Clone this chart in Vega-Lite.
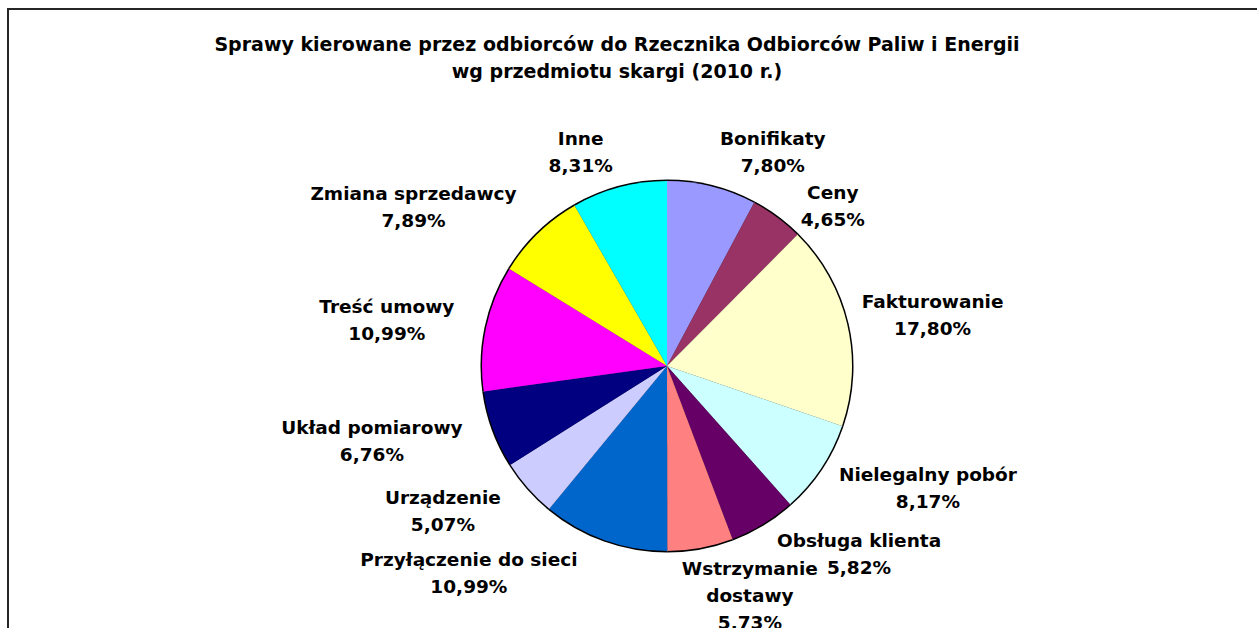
{
  "$schema": "https://vega.github.io/schema/vega-lite/v6.json",
  "autosize": {"type": "none"},
  "width": 1318,
  "height": 714,
  "padding": {"left": 8, "top": 9, "right": -69, "bottom": -95},
  "background": "white",
  "view": {"stroke": "#262626", "strokeWidth": 2, "fill": "white"},
  "config": {"view": {"stroke": "#262626", "strokeWidth": 2}},
  "title": {
    "text": ["Sprawy kierowane przez odbiorców do Rzecznika Odbiorców Paliw i Energii", "wg przedmiotu skargi (2010 r.)"],
    "font": "DejaVu Sans",
    "fontSize": 19,
    "fontWeight": "bold",
    "color": "black",
    "lineHeight": 27,
    "anchor": "middle",
    "frame": "group",
    "baseline": "top",
    "offset": -73,
    "dx": -50
  },
  "data": {
    "values": [
      {"i": 1, "name": "Bonifikaty", "value": 7.80},
      {"i": 2, "name": "Ceny", "value": 4.65},
      {"i": 3, "name": "Fakturowanie", "value": 17.80},
      {"i": 4, "name": "Nielegalny pobór", "value": 8.17},
      {"i": 5, "name": "Obsługa klienta", "value": 5.82},
      {"i": 6, "name": "Wstrzymanie\ndostawy", "value": 5.73},
      {"i": 7, "name": "Przyłączenie do sieci", "value": 10.99},
      {"i": 8, "name": "Urządzenie", "value": 5.07},
      {"i": 9, "name": "Układ pomiarowy", "value": 6.76},
      {"i": 10, "name": "Treść umowy", "value": 10.99},
      {"i": 11, "name": "Zmiana sprzedawcy", "value": 7.89},
      {"i": 12, "name": "Inne", "value": 8.31}
    ]
  },
  "encoding": {
    "theta": {"field": "value", "type": "quantitative", "stack": true},
    "order": {"field": "i", "type": "quantitative"}
  },
  "layer": [
    {
      "mark": {"type": "arc", "outerRadius": 186.5, "color": "black"}
    },
    {
      "mark": {"type": "arc", "outerRadius": 185},
      "encoding": {
        "color": {
          "field": "name",
          "type": "nominal",
          "legend": null,
          "scale": {
            "domain": ["Bonifikaty", "Ceny", "Fakturowanie", "Nielegalny pobór", "Obsługa klienta", "Wstrzymanie\ndostawy", "Przyłączenie do sieci", "Urządzenie", "Układ pomiarowy", "Treść umowy", "Zmiana sprzedawcy", "Inne"],
            "range": ["#9999FF", "#993366", "#FFFFCC", "#CCFFFF", "#660066", "#FF8080", "#0066CC", "#CCCCFF", "#000080", "#FF00FF", "#FFFF00", "#00FFFF"]
          }
        }
      }
    },
    {
      "transform": [
        {"calculate": "replace(format(datum.value, '.2f'), '.', ',') + '%'", "as": "pct"},
        {"calculate": "datum.name + '\\n' + datum.pct", "as": "label"},
        {"calculate": "split(datum.name, '\\n')", "as": "parts"},
        {"calculate": "max(length(datum.parts[0]), length(peek(datum.parts)), length(datum.pct)) * 5.9", "as": "hw"},
        {"calculate": "length(datum.parts) * 13.5 + 7", "as": "hh"},
        {"calculate": "length(datum.parts) * 13.5", "as": "up"},
        {"joinaggregate": [{"op": "sum", "field": "value", "as": "total"}]},
        {"window": [{"op": "sum", "field": "value", "as": "cum"}], "sort": [{"field": "i"}], "frame": [null, 0]},
        {"calculate": "2 * PI * (datum.cum - datum.value / 2) / datum.total", "as": "ang"},
        {"calculate": "200 * sin(datum.ang) + datum.hw * clamp(4 * sin(datum.ang), -1, 1) + min(0, 20 * sin(datum.ang))", "as": "cx"},
        {"calculate": "-(200 + datum.hh) * cos(datum.ang) - datum.up", "as": "cy0"},
        {"calculate": "length(datum.parts[0]) * 5.9", "as": "fw"},
        {"calculate": "length(datum.pct) * 5.9", "as": "lw"},
        {"calculate": "datum.cy0 + length(datum.parts) * 27", "as": "ly"},
        {"window": [
          {"op": "lag", "field": "cx", "as": "pcx"},
          {"op": "lag", "field": "ly", "as": "ply"},
          {"op": "lag", "field": "lw", "as": "plw"}
        ], "sort": [{"field": "i"}]},
        {"calculate": "(datum.pcx != null && sin(datum.ang) > 0 && abs(datum.cx - datum.pcx) < datum.fw + datum.plw && abs(datum.cy0 - datum.ply) < 27) ? (datum.ply + 27 - datum.cy0) : 0", "as": "shift"}
      ],
      "mark": {
        "type": "text",
        "radius": 200,
        "font": "DejaVu Sans",
        "fontSize": 18.5,
        "fontWeight": "bold",
        "color": "black",
        "lineHeight": 27,
        "lineBreak": "\n",
        "align": "center",
        "baseline": "middle",
        "dx": {"expr": "datum.hw * clamp(4 * sin(datum.ang), -1, 1) + min(0, 20 * sin(datum.ang)) + datum.shift"},
        "dy": {"expr": "-datum.hh * cos(datum.ang) - datum.up + datum.shift"}
      },
      "encoding": {
        "text": {"field": "label", "type": "nominal"}
      }
    }
  ]
}
